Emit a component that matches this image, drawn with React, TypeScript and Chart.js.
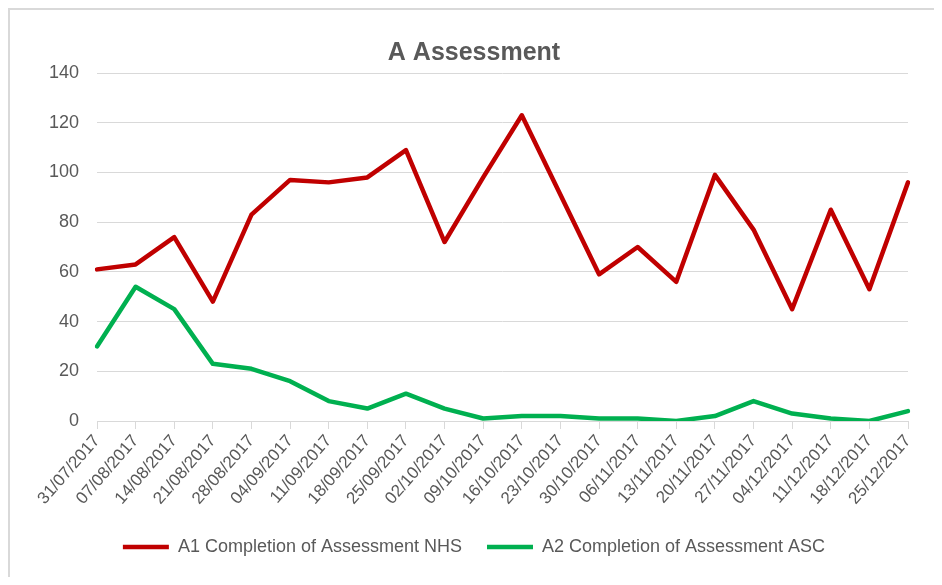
import React, { useEffect, useRef } from "react";
import { Chart, registerables } from "chart.js";

Chart.register(...registerables);

const TITLE = "A Assessment";
const weeks = [
  "31/07/2017", "07/08/2017", "14/08/2017", "21/08/2017", "28/08/2017", "04/09/2017",
  "11/09/2017", "18/09/2017", "25/09/2017", "02/10/2017", "09/10/2017", "16/10/2017",
  "23/10/2017", "30/10/2017", "06/11/2017", "13/11/2017", "20/11/2017", "27/11/2017",
  "04/12/2017", "11/12/2017", "18/12/2017", "25/12/2017",
];
const nhsLabel = "A1 Completion of Assessment NHS";
const nhsValues = [61, 63, 74, 48, 83, 97, 96, 98, 109, 72, 98, 123, 91, 59, 70, 56, 99, 77, 45, 85, 53, 96];
const ascLabel = "A2 Completion of Assessment ASC";
const ascValues = [30, 54, 45, 23, 21, 16, 8, 5, 11, 5, 1, 2, 2, 1, 1, 0, 2, 8, 3, 1, 0, 4];
const yMin = 0;
const yMax = 140;
const yStep = 20;

const FONT = "'Liberation Sans', Arial, sans-serif";
const TEXT = "#595959";
const GRID = "#d9d9d9";

export default function App() {
  const ref = useRef<HTMLCanvasElement | null>(null);

  useEffect(() => {
    if (!ref.current) return;
    const chart = new Chart(ref.current, {
      type: "line",
      data: {
        labels: weeks,
        datasets: [
          {
            label: nhsLabel,
            data: nhsValues,
            borderColor: "#c00000",
            backgroundColor: "#c00000",
            borderWidth: 4.5,
            pointRadius: 0,
            tension: 0,
            borderJoinStyle: "round",
            borderCapStyle: "round",
          },
          {
            label: ascLabel,
            data: ascValues,
            borderColor: "#00b050",
            backgroundColor: "#00b050",
            borderWidth: 4.5,
            pointRadius: 0,
            tension: 0,
            borderJoinStyle: "round",
            borderCapStyle: "round",
          },
        ],
      },
      options: {
        animation: false,
        responsive: false,
        maintainAspectRatio: false,
        layout: { padding: { left: 30, right: 26, top: 0, bottom: 11 } },
        plugins: {
          title: {
            display: true,
            text: TITLE,
            color: TEXT,
            font: { family: FONT, size: 25, weight: "bold" },
            padding: { top: 28, bottom: 5 },
          },
          legend: {
            display: true,
            position: "bottom",
            labels: {
              usePointStyle: true,
              pointStyle: "line",
              pointStyleWidth: 46,
              boxHeight: 5,
              color: TEXT,
              font: { family: FONT, size: 18 },
              padding: 25,
            },
          },
          tooltip: { enabled: false },
        },
        scales: {
          x: {
            offset: false,
            grid: {
              drawOnChartArea: false,
              drawTicks: true,
              tickLength: 8,
              color: GRID,
            },
            border: { display: true, color: GRID, width: 1 },
            ticks: {
              autoSkip: false,
              minRotation: 49,
              maxRotation: 49,
              padding: 2,
              color: TEXT,
              font: { family: FONT, size: 17 },
            },
            afterFit: (scale: any) => {
              scale.height = 92;
            },
          },
          y: {
            min: yMin,
            max: yMax,
            grid: { color: GRID, drawTicks: false, lineWidth: 1 },
            border: { display: false },
            ticks: {
              stepSize: yStep,
              padding: 18,
              color: TEXT,
              font: { family: FONT, size: 18 },
            },
            afterFit: (scale: any) => {
              scale.width = 57;
            },
          },
        },
      },
    });
    return () => chart.destroy();
  }, []);

  return (
    <div
      style={{
        width: 926,
        height: 569,
        boxSizing: "border-box",
        borderTop: "2px solid #d9d9d9",
        borderLeft: "2px solid #d9d9d9",
        background: "#fff",
        overflow: "hidden",
      }}
    >
      <canvas ref={ref} width={924} height={567} style={{ display: "block" }} />
    </div>
  );
}
